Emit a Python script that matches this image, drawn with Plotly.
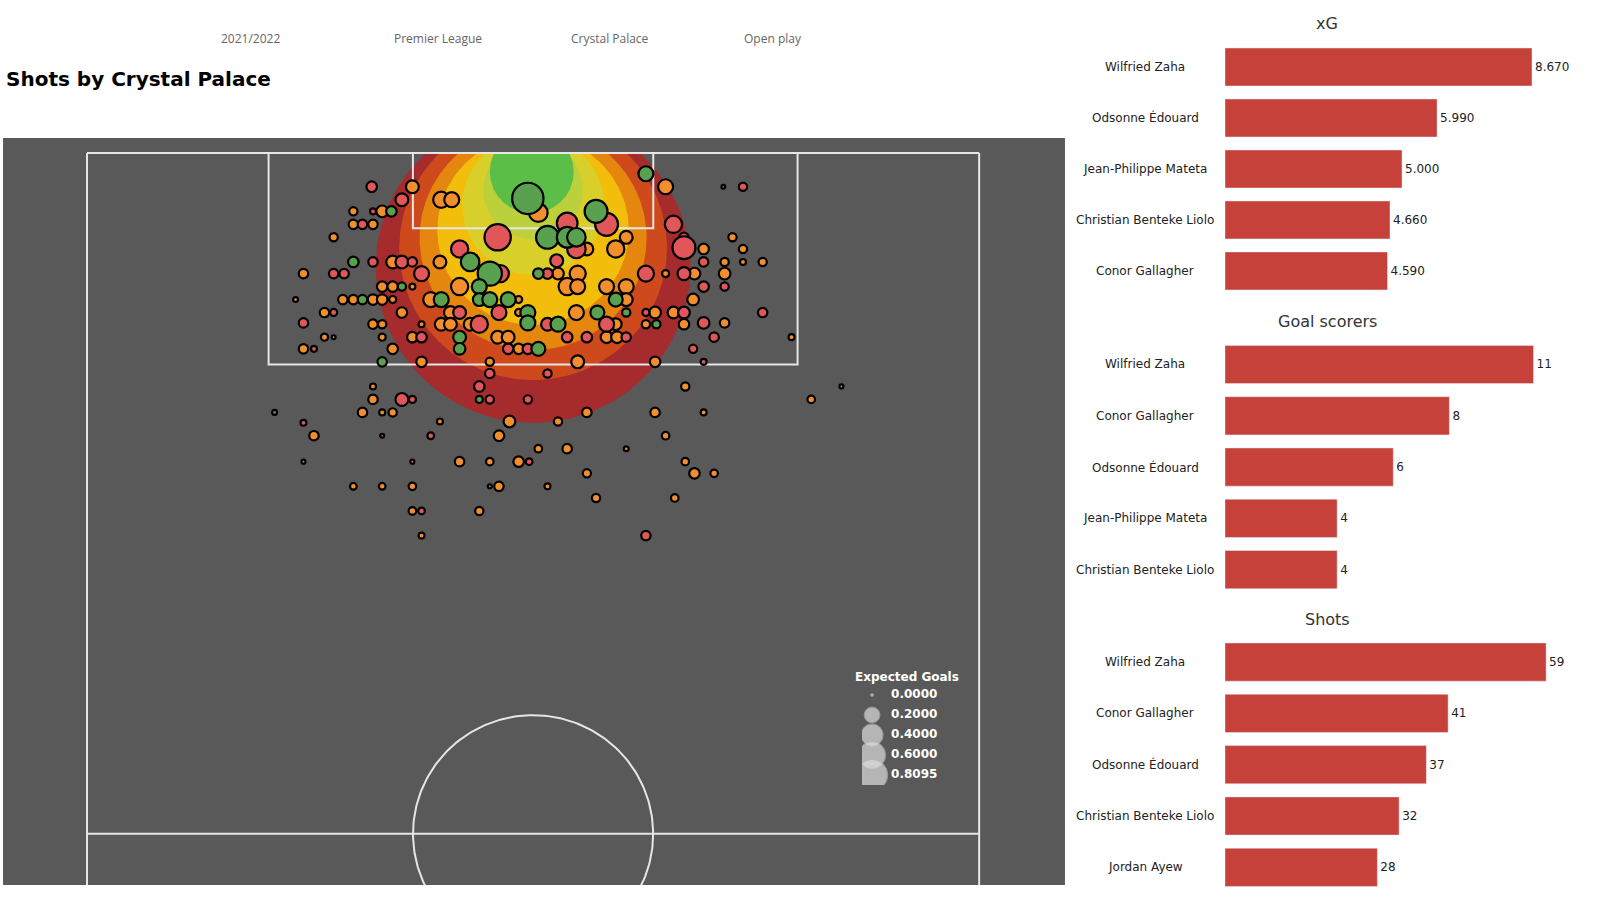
import numpy as np
import plotly.graph_objects as go

FILTERS = ["2021/2022", "Premier League", "Crystal Palace", "Open play"]
TITLE = "Shots by Crystal Palace"

# shots as [across pitch (m from left touchline), distance from goal line (m), xG]
goal_shots = [
    [33.6, 3.5, 0.8095], [42.6, 1.6, 0.18], [38.8, 4.5, 0.43], [35.1, 6.5, 0.43],
    [36.6, 6.5, 0.35], [37.3, 6.5, 0.28], [29.2, 8.4, 0.28], [30.7, 9.3, 0.48],
    [34.4, 9.3, 0.085], [24.0, 10.3, 0.05], [29.9, 10.3, 0.18], [27.0, 11.3, 0.18],
    [29.9, 11.3, 0.13], [30.7, 11.3, 0.18], [32.1, 11.3, 0.18], [40.3, 11.3, 0.155],
    [33.6, 12.3, 0.18], [33.6, 13.1, 0.18], [38.9, 12.3, 0.155], [41.1, 12.3, 0.05],
    [35.9, 13.2, 0.18], [43.4, 13.2, 0.05], [28.4, 14.2, 0.13], [28.4, 15.1, 0.107],
    [34.4, 15.1, 0.155], [22.5, 16.1, 0.067], [23.2, 4.5, 0.085], [20.3, 8.4, 0.085],
    [21.0, 11.3, 0.067], [29.9, 19.0, 0.035], [14.3, 20.0, 0.012],
]
saved_shots = [
    [21.7, 2.6, 0.085], [24.0, 3.6, 0.13], [21.8, 4.5, 0.022], [21.0, 5.5, 0.067],
    [36.6, 5.4, 0.35], [39.6, 5.5, 0.43], [44.7, 5.5, 0.24], [31.3, 6.5, 0.57],
    [37.3, 7.4, 0.28], [45.5, 6.5, 0.067], [45.5, 7.3, 0.43], [28.4, 7.4, 0.24],
    [21.8, 8.4, 0.067], [24.0, 8.4, 0.13], [24.8, 8.4, 0.067], [35.8, 8.3, 0.13],
    [25.5, 9.3, 0.18], [31.5, 9.3, 0.24], [35.1, 9.3, 0.085], [42.6, 9.3, 0.21],
    [45.5, 9.3, 0.13], [28.4, 12.3, 0.13], [31.4, 12.3, 0.18], [42.6, 12.3, 0.035],
    [45.5, 12.3, 0.107], [29.9, 13.2, 0.24], [35.1, 13.2, 0.13], [39.6, 13.2, 0.18],
    [25.5, 14.2, 0.085], [36.6, 14.2, 0.085], [38.1, 14.2, 0.085], [41.1, 14.2, 0.067],
    [46.2, 15.1, 0.05], [32.1, 15.1, 0.085], [33.6, 15.1, 0.085], [30.7, 17.0, 0.067],
    [35.1, 17.0, 0.05], [29.9, 18.0, 0.085], [24.0, 19.0, 0.13], [24.8, 19.0, 0.035],
    [30.7, 19.0, 0.05], [33.6, 19.0, 0.05], [18.8, 9.3, 0.067], [19.6, 9.3, 0.067],
    [18.8, 12.3, 0.035], [16.5, 13.1, 0.067], [17.3, 15.1, 0.022], [48.5, 2.6, 0.005],
    [50.0, 2.6, 0.05], [47.0, 8.4, 0.067], [47.0, 10.3, 0.085], [48.6, 10.3, 0.05],
    [51.5, 12.3, 0.067], [47.0, 13.1, 0.107], [47.8, 14.2, 0.067], [47.0, 16.1, 0.022],
    [16.5, 20.8, 0.022], [26.2, 21.8, 0.03], [33.7, 23.8, 0.03], [25.5, 27.6, 0.03],
    [42.6, 29.5, 0.067],
]
missed_shots = [
    [24.8, 2.6, 0.13], [27.0, 3.6, 0.21], [27.8, 3.6, 0.18], [34.4, 4.6, 0.28],
    [44.1, 2.6, 0.18], [22.5, 4.5, 0.107], [20.3, 4.5, 0.05], [20.3, 5.5, 0.067],
    [21.8, 5.5, 0.067], [18.8, 6.5, 0.05], [38.1, 7.4, 0.13], [41.1, 6.5, 0.13],
    [40.3, 7.4, 0.24], [26.9, 8.4, 0.13], [23.3, 8.4, 0.13], [35.9, 9.3, 0.107],
    [37.4, 9.3, 0.21], [44.1, 9.3, 0.035], [46.3, 9.3, 0.107], [22.5, 10.3, 0.085],
    [23.3, 10.3, 0.085], [24.8, 10.3, 0.022], [28.4, 10.3, 0.24], [36.6, 10.3, 0.24],
    [37.4, 10.3, 0.18], [39.6, 10.3, 0.18], [41.1, 10.3, 0.18], [21.8, 11.3, 0.085],
    [22.5, 11.3, 0.085], [23.3, 11.3, 0.035], [26.2, 11.3, 0.18], [32.9, 11.3, 0.035],
    [41.1, 11.3, 0.13], [46.2, 11.3, 0.107], [24.0, 12.3, 0.085], [27.7, 12.3, 0.13],
    [32.9, 12.3, 0.035], [37.3, 12.3, 0.18], [43.3, 12.3, 0.107], [44.7, 12.3, 0.107],
    [21.8, 13.2, 0.067], [22.5, 13.2, 0.05], [25.5, 13.2, 0.022], [27.0, 13.2, 0.13],
    [27.7, 13.2, 0.13], [29.2, 13.2, 0.13], [40.3, 13.2, 0.107], [42.6, 13.2, 0.05],
    [45.5, 13.2, 0.085], [22.5, 14.2, 0.035], [24.8, 14.2, 0.085], [31.3, 14.2, 0.13],
    [32.1, 14.2, 0.13], [39.6, 14.2, 0.107], [40.4, 14.2, 0.107], [23.3, 15.1, 0.085],
    [32.9, 15.1, 0.085], [25.5, 16.1, 0.085], [30.7, 16.1, 0.05], [37.4, 16.1, 0.13],
    [43.3, 16.1, 0.085], [45.6, 18.0, 0.05], [21.8, 18.0, 0.022], [21.8, 19.0, 0.067],
    [22.5, 20.0, 0.022], [23.3, 20.0, 0.05], [21.0, 20.0, 0.067], [38.1, 20.0, 0.067],
    [43.3, 20.0, 0.067], [26.9, 20.7, 0.022], [32.2, 20.7, 0.107], [35.9, 20.7, 0.05],
    [47.0, 20.0, 0.022], [55.2, 19.0, 0.04], [57.5, 18.0, 0.006], [17.3, 21.8, 0.067],
    [22.5, 21.8, 0.005], [31.4, 21.8, 0.085], [44.1, 21.8, 0.04], [34.4, 22.8, 0.04],
    [36.6, 22.8, 0.067], [41.1, 22.8, 0.012], [16.5, 23.8, 0.006], [24.8, 23.8, 0.006],
    [28.4, 23.8, 0.067], [30.7, 23.8, 0.04], [32.9, 23.8, 0.085], [45.6, 23.8, 0.04],
    [38.1, 24.7, 0.05], [46.3, 24.7, 0.085], [47.8, 24.7, 0.04], [20.3, 25.7, 0.03],
    [22.5, 25.7, 0.03], [24.8, 25.7, 0.04], [30.7, 25.7, 0.006], [31.4, 25.7, 0.067],
    [35.1, 25.7, 0.022], [38.8, 26.6, 0.05], [44.8, 26.6, 0.04], [24.8, 27.6, 0.04],
    [29.9, 27.6, 0.05], [25.5, 29.5, 0.022], [16.5, 9.3, 0.067], [15.9, 11.3, 0.012],
    [19.5, 11.3, 0.067], [20.3, 11.3, 0.067], [18.1, 12.3, 0.067], [18.1, 14.2, 0.035],
    [18.8, 14.2, 0.005], [16.5, 15.1, 0.067], [47.0, 7.4, 0.085], [49.2, 6.5, 0.05],
    [50.0, 7.4, 0.05], [48.6, 8.4, 0.05], [50.0, 8.4, 0.022], [51.5, 8.4, 0.05],
    [48.6, 9.3, 0.107], [48.6, 13.1, 0.067], [53.7, 14.2, 0.022],
]

# xG zones behind the shots, outermost first: centre x, centre y, radius (m)
zone_cx = [34.0, 34.0, 34.0, 34.0, 34.0, 34.0, 33.9]
zone_cy = [8.8, 7.3, 6.55, 5.95, 4.0, 2.85, 1.45]
zone_r = [12.0, 10.2, 8.65, 7.3, 5.4, 3.8, 3.2]

legend_xg = [0.0, 0.2, 0.4, 0.6, 0.8095]
legend_labels = ["0.0000", "0.2000", "0.4000", "0.6000", "0.8095"]

xg_players = ["Wilfried Zaha", "Odsonne Édouard", "Jean-Philippe Mateta",
              "Christian Benteke Liolo", "Conor Gallagher"]
xg_values = [8.67, 5.99, 5.00, 4.66, 4.59]
goal_players = ["Wilfried Zaha", "Conor Gallagher", "Odsonne Édouard",
                "Jean-Philippe Mateta", "Christian Benteke Liolo"]
goal_values = [11, 8, 6, 4, 4]
shot_players = ["Wilfried Zaha", "Conor Gallagher", "Odsonne Édouard",
                "Christian Benteke Liolo", "Jordan Ayew"]
shot_values = [59, 41, 37, 32, 28]

# pitch geometry (m)
PITCH_W = 68
HALF_L = 52.5
BOX_W, BOX_D = 40.32, 16.3
SIX_W, SIX_D = 18.32, 5.8
CIRCLE_R = 9.15

ZONE_COLORS = ["#A52B2D", "#CE4A1C", "#E5870F", "#F2BE0B", "#D9CF2B", "#BCD03B", "#5BBF47"]
OUTCOME_COLORS = {"missed": "#F28E2B", "saved": "#E15759", "goal": "#59A14F"}
BAR_COLOR = "#C5413A"
PANEL = "#595959"
LINE = "#E6E6E6"
FONT = "DejaVu Sans"


def xg_size(v):
    return np.sqrt(9 + 1200 * np.asarray(v, dtype=float))


fig = go.Figure()

# xG zones
theta = np.linspace(0, 2 * np.pi, 240)
for cx, cy, r, col in zip(zone_cx, zone_cy, zone_r, ZONE_COLORS):
    fig.add_trace(go.Scatter(
        x=cx + r * np.cos(theta), y=np.maximum(cy + r * np.sin(theta), 0),
        mode="lines", fill="toself", fillcolor=col, line=dict(width=0, color=col),
        hoverinfo="skip", showlegend=False))

# pitch markings
lx, ly = [], []
def seg(xs, ys):
    lx.extend(list(xs) + [None])
    ly.extend(list(ys) + [None])

seg([0, PITCH_W], [0, 0])
seg([0, 0], [0, 60])
seg([PITCH_W, PITCH_W], [0, 60])
seg([0, PITCH_W], [HALF_L, HALF_L])
bx0, bx1 = (PITCH_W - BOX_W) / 2, (PITCH_W + BOX_W) / 2
seg([bx0, bx0, bx1, bx1], [0, BOX_D, BOX_D, 0])
sx0, sx1 = (PITCH_W - SIX_W) / 2, (PITCH_W + SIX_W) / 2
seg([sx0, sx0, sx1, sx1], [0, SIX_D, SIX_D, 0])
seg(PITCH_W / 2 + CIRCLE_R * np.cos(theta), HALF_L + CIRCLE_R * np.sin(theta))
fig.add_trace(go.Scatter(x=lx, y=ly, mode="lines", line=dict(color=LINE, width=2),
                         hoverinfo="skip", showlegend=False))

# shots
for name, shots in [("missed", missed_shots), ("saved", saved_shots), ("goal", goal_shots)]:
    arr = np.array(shots)
    fig.add_trace(go.Scatter(
        x=arr[:, 0], y=arr[:, 1], mode="markers",
        marker=dict(size=xg_size(arr[:, 2]), color=OUTCOME_COLORS[name],
                    line=dict(color="black", width=2.2), opacity=1),
        hovertemplate="xG %{customdata:.3f}<extra></extra>", customdata=arr[:, 2],
        showlegend=False))

# size legend
fig.add_trace(go.Scatter(
    x=[1] * len(legend_xg), y=list(range(len(legend_xg))), mode="markers",
    marker=dict(size=xg_size(legend_xg), color="#DCDCDC",
                line=dict(color="#B0B0B0", width=1)),
    xaxis="x5", yaxis="y5", hoverinfo="skip", showlegend=False))
fig.add_trace(go.Scatter(
    x=[2.9] * len(legend_xg), y=list(range(len(legend_xg))), mode="text",
    text=[f"<b>{t}</b>" for t in legend_labels], textposition="middle right",
    textfont=dict(size=12, color="white", family=FONT),
    xaxis="x5", yaxis="y5", hoverinfo="skip", showlegend=False))

# bar panels
bar_sets = [
    (xg_players, xg_values, [f"{v:.3f}" for v in xg_values], "2"),
    (goal_players, goal_values, [str(v) for v in goal_values], "3"),
    (shot_players, shot_values, [str(v) for v in shot_values], "4"),
]
for players, values, labels, ax in bar_sets:
    fig.add_trace(go.Bar(
        x=values, y=players, orientation="h", marker_color=BAR_COLOR,
        text=labels, textposition="outside", cliponaxis=False, constraintext="none",
        textfont=dict(size=12, color="#222222", family=FONT),
        xaxis="x" + ax, yaxis="y" + ax, hoverinfo="skip", showlegend=False))

hidden = dict(visible=False, showgrid=False, zeroline=False, fixedrange=True)
fig.update_layout(
    width=1600, height=900, autosize=False,
    margin=dict(l=0, r=0, t=0, b=0),
    paper_bgcolor="white", plot_bgcolor="rgba(0,0,0,0)",
    font=dict(family=FONT, color="#222222"),
    bargap=0.255, showlegend=False,
    xaxis=dict(domain=[0.0019, 0.6656], range=[-6.4, 74.54], **hidden),
    yaxis=dict(domain=[0.0167, 0.8467], range=[56.44, -1.16], **hidden),
    xaxis2=dict(domain=[0.7656, 1.0], range=[0, 10.59], anchor="y2", **hidden),
    yaxis2=dict(domain=[0.6706, 0.9539], autorange="reversed", anchor="x2", **hidden),
    xaxis3=dict(domain=[0.7656, 1.0], range=[0, 13.37], anchor="y3", **hidden),
    yaxis3=dict(domain=[0.3386, 0.6235], autorange="reversed", anchor="x3", **hidden),
    xaxis4=dict(domain=[0.7656, 1.0], range=[0, 68.9], anchor="y4", **hidden),
    yaxis4=dict(domain=[0.0078, 0.2929], autorange="reversed", anchor="x4", **hidden),
    xaxis5=dict(domain=[0.5388, 0.6013], range=[0, 10], anchor="y5", **hidden),
    yaxis5=dict(domain=[0.1278, 0.2389], range=[4.5, -0.5], anchor="x5", **hidden),
)

fig.add_shape(type="rect", xref="x domain", yref="y domain", x0=0, x1=1, y0=0, y1=1,
              fillcolor=PANEL, line=dict(width=0), layer="below")


def note(x_px, y_px, text, size, color, family=FONT, xanchor="center", yref="paper"):
    y = 1 - y_px / 900 if yref == "paper" else y_px
    return dict(x=x_px / 1600, y=y, xref="paper", yref=yref, text=text,
                showarrow=False, xanchor=xanchor, yanchor="middle",
                font=dict(size=size, color=color, family=family))


ann = []
for txt, xp in zip(FILTERS, [250, 438, 610, 773]):
    ann.append(note(xp, 38, txt, 12, "#666666", family="Open Sans"))
ann.append(note(4, 79, f"<b>{TITLE}</b>", 20, "black", xanchor="left"))
for txt, yp in [("xG", 23), ("Goal scorers", 321), ("Shots", 619)]:
    ann.append(note(1327, yp, txt, 16, "#333333"))
for players, _, _, ax in bar_sets:
    for p in players:
        ann.append(note(1145, p, p, 12, "#222222", yref="y" + ax))
ann.append(note(907, 677, "<b>Expected Goals</b>", 12, "white"))
fig.update_layout(annotations=ann)

fig.write_html("out.html", config={"displayModeBar": False},
               post_script="document.body.style.margin = '0px';")
